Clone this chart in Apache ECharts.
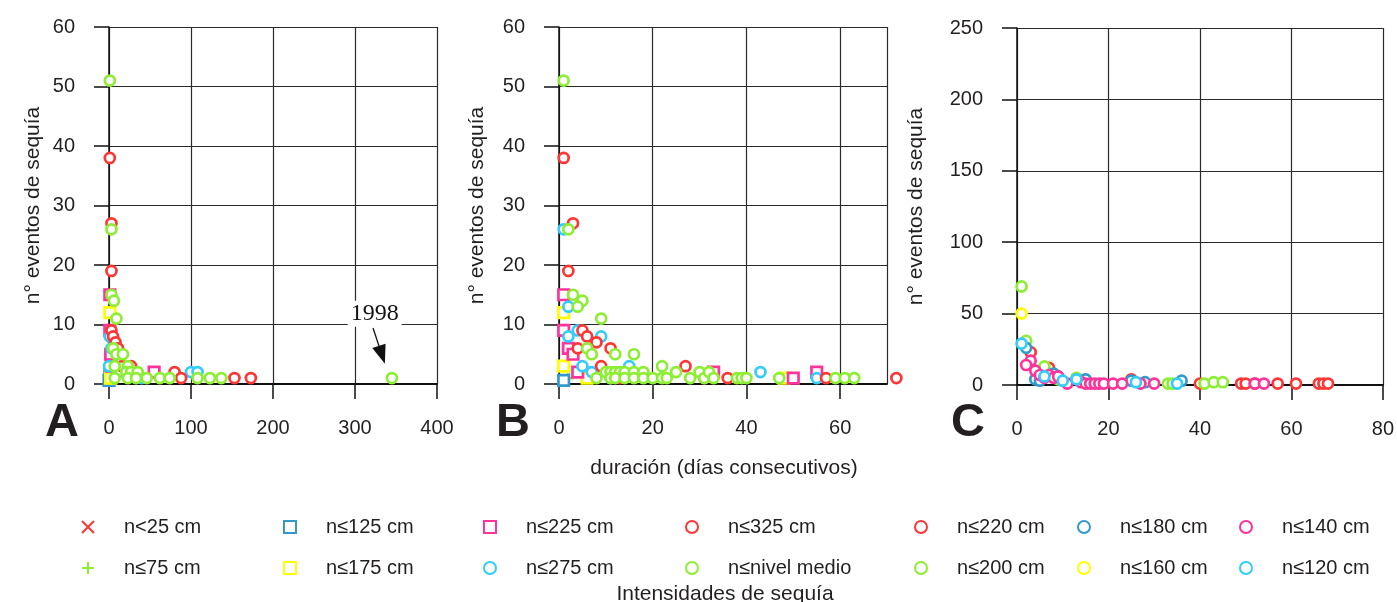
<!DOCTYPE html>
<html><head><meta charset="utf-8">
<script src="https://cdn.jsdelivr.net/npm/echarts@6/dist/echarts.min.js"></script>
<style>html,body{margin:0;padding:0;background:#fff}#c{width:1397px;height:602px}</style>
</head><body><div id="c"></div>
<script>
// ---------- categories ----------
const categoryNames = ['n<25 cm','n≤75 cm','n≤125 cm','n≤175 cm','n≤225 cm','n≤275 cm','n≤325 cm','n≤nivel medio',
                       'n≤220 cm','n≤200 cm','n≤180 cm','n≤160 cm','n≤140 cm','n≤120 cm'];
const categoryColors = ['#FF3636','#8DEE33','#3399CC','#FFFF00','#FF3399','#33CCFF','#FF3636','#8DEE33',
                        '#FF3636','#8DEE33','#3399CC','#FFFF00','#FF3399','#33CCFF'];
const categoryShapes = ['cross','plus','square','square','square','circle','circle','circle',
                        'circle','circle','circle','circle','circle','circle'];

// ---------- axis ticks ----------
const xTicksA = [0, 100, 200, 300, 400];
const xTicksB = [0, 20, 40, 60];
const xMaxB = 70;
const xTicksC = [0, 20, 40, 60, 80];
const yTicksAB = [0, 10, 20, 30, 40, 50, 60];
const yTicksC = [0, 50, 100, 150, 200, 250];

// ---------- panel A: [duración, nº eventos] ----------
const A_lt25 = [[1,3]];
const A_le75 = [[2,2]];
const A_le125 = [[0,0.6],[1,2]];
const A_le175 = [[1,12],[2,1]];
const A_le225 = [[1,15],[1,9],[2,5],[3,3],[55,2]];
const A_le275 = [[1,8],[3,6],[0,3],[12,2],[100,2],[108,2],[40,1]];
const A_le325 = [[1,38],[3,27],[3,19],[3,9],[5,8],[8,7],[11,6],[16,3],[27,3],[80,2],[88,1],[153,1],[173,1]];
const A_nivel = [[1,51],[3,26],[3,15],[6,14],[9,11],[5,6],[9,5],[17,5],[7,3],[23,3],[21,2],[27,2],[35,2],
                 [7,1],[23,1],[33,1],[46,1],[62,1],[74,1],[108,1],[123,1],[137,1],[345,1]];

// ---------- panel B ----------
const B_lt25 = [[1,3]];
const B_le75 = [[2,1]];
const B_le125 = [[1,0.6]];
const B_le175 = [[1,12],[1,3],[6,1],[48,1]];
const B_le225 = [[1,15],[1,9],[2,6],[3,5],[4,2],[33,2],[50,1],[55,2]];
const B_le275 = [[1,26],[2,13],[2,8],[4,9],[9,8],[5,3],[7,2],[11,1],[15,3],[43,2],[55,1]];
const B_le325 = [[1,38],[3,27],[2,19],[5,9],[6,8],[8,7],[11,6],[4,6],[9,3],[13,1],[27,3],[31,1],[36,1],[57,1],[72,1]];
const B_nivel = [[1,51],[2,26],[3,15],[5,14],[4,13],[9,11],[6,6],[7,5],[12,5],[16,5],
                 [10,2],[11,2],[12,2],[13,2],[14,2],[16,2],[18,2],
                 [8,1],[11,1],[12,1],[14,1],[16,1],[18,1],[20,1],[22,1],[23,1],[22,3],[25,2],[28,1],
                 [30,2],[31,1],[32,2],[33,1],[38,1],[39,1],[40,1],[47,1],[59,1],[61,1],[63,1]];

// ---------- panel C ----------
const C_le220 = [[3,23],[7,12],[25,4],[40,1],[49,1],[50,1],[52,1],[57,1],[61,1],[66,1],[67,1],[68,1]];
const C_le200 = [[1,69],[2,31],[6,13],[13,5],[9,4],[33,1],[34,1],[35,1],[41,1],[43,2],[45,2]];
const C_le180 = [[2,26],[4,4],[5,3],[8,8],[9,6],[15,4],[25,3],[28,2],[36,3]];
const C_le160 = [[1,50]];
const C_le140 = [[3,17],[2,14],[4,10],[5,7],[7,7],[6,5],[8,5],[9,6],[11,1],[14,2],[15,1],[16,1],[17,1],
                 [18,1],[19,1],[21,1],[23,1],[27,1],[30,1],[52,1],[54,1]];
const C_le120 = [[1,29],[6,6],[10,3],[13,4],[26,2],[35,1]];

// annotation (data coordinates of panel A)
const annoYear = '1998';
const annoTextAt = [324, 11.8];
const annoArrowFrom = [322, 9.4];
const annoArrowTo = [332.8, 4.9];

const panelA = [A_lt25, A_le75, A_le125, A_le175, A_le225, A_le275, A_le325, A_nivel];
const panelB = [B_lt25, B_le75, B_le125, B_le175, B_le225, B_le275, B_le325, B_nivel];
const panelC = [C_le220, C_le200, C_le180, C_le160, C_le140, C_le120];

// ---------- styling ----------
const FONT = '"Liberation Sans", Arial, sans-serif';
const TXT = '#231f20';
const shapeSymbol = {
  circle: 'circle',
  square: 'rect',
  cross: 'path://M0,0L10,10M10,0L0,10',
  plus: 'path://M5,0L5,10M0,5L10,5'
};
const shapeSize = {circle: 10, square: 10.5, cross: 9.5, plus: 10.5};

function makeSeries(catIdx, data, axisIdx) {
  const shape = categoryShapes[catIdx];
  return {
    type: 'scatter',
    name: categoryNames[catIdx],
    xAxisIndex: axisIdx, yAxisIndex: axisIdx,
    data: data,
    symbol: shapeSymbol[shape],
    symbolSize: shapeSize[shape],
    clip: false,
    itemStyle: {color: '#ffffff', borderColor: categoryColors[catIdx], borderWidth: 2.7, opacity: 1},
    emphasis: {disabled: true},
    animation: false
  };
}

const series = [];
panelA.forEach((d, i) => series.push(makeSeries(i, d, 0)));
panelB.forEach((d, i) => series.push(makeSeries(i, d, 1)));
panelC.forEach((d, i) => series.push(makeSeries(8 + i, d, 2)));

// annotation on panel A green series
const annoSeries = series[7];
annoSeries.markLine = {
  silent: true, animation: false,
  symbol: ['none', 'triangle'], symbolSize: [14, 19],
  lineStyle: {color: '#111', width: 1.3, type: 'solid'},
  label: {show: false},
  data: [[{coord: annoArrowFrom}, {coord: annoArrowTo}]]
};
annoSeries.markPoint = {
  silent: true, animation: false,
  symbol: 'rect', symbolSize: 0,
  label: {show: true, position: 'inside', formatter: annoYear, fontFamily: '"Liberation Serif", "Times New Roman", serif',
          fontSize: 24, color: '#111', backgroundColor: '#fff', padding: [1, 3]},
  data: [{coord: annoTextAt}]
};

function xAxisCfg(gridIndex, ticks, max, hideMax) {
  return {
    type: 'value', gridIndex, min: 0, max: max, interval: ticks[1] - ticks[0],
    axisLine: {show: true, onZero: false, lineStyle: {color: '#111', width: 2}},
    axisTick: {show: true, length: 15, lineStyle: {color: '#111', width: 1.5}},
    splitLine: {show: true, lineStyle: {color: '#2a2a2a', width: 1.2}},
    axisLabel: {fontSize: 20, color: TXT, fontFamily: FONT, margin: 34, showMaxLabel: !hideMax}
  };
}
function yAxisCfg(gridIndex, ticks, nameGap) {
  return {
    type: 'value', gridIndex, min: ticks[0], max: ticks[ticks.length - 1], interval: ticks[1] - ticks[0],
    name: 'n° eventos de sequía', nameLocation: 'middle', nameGap: nameGap,
    nameTextStyle: {fontSize: 21, color: TXT, fontFamily: FONT},
    axisLine: {show: true, onZero: false, lineStyle: {color: '#111', width: 1.5}},
    axisTick: {show: true, length: 15, lineStyle: {color: '#111', width: 1.5}},
    splitLine: {show: true, lineStyle: {color: '#2a2a2a', width: 1.2}},
    axisLabel: {fontSize: 20, color: TXT, fontFamily: FONT, margin: 34}
  };
}

// legends: one per category, 7 columns x 2 rows
const legendColX = [87, 289, 489, 691, 920, 1083, 1245];
const legendRowY = [527, 568];
const legends = categoryNames.map((nm, i) => ({
  data: [nm],
  left: legendColX[Math.floor(i / 2)] - 6,
  top: legendRowY[i % 2] - 10,
  padding: 0,
  itemWidth: 12, itemHeight: 12,
  selectedMode: false,
  textStyle: {fontSize: 20, color: TXT, fontFamily: FONT, lineHeight: 20, padding: [0, 0, 0, 25]}
}));

const option = {
  backgroundColor: '#ffffff',
  animation: false,
  textStyle: {fontFamily: FONT},
  grid: [
    {left: 109, top: 27, width: 328, height: 357},
    {left: 559, top: 27, width: 328, height: 357},
    {left: 1017, top: 28, width: 366, height: 357}
  ],
  xAxis: [
    xAxisCfg(0, xTicksA, xTicksA[xTicksA.length - 1], false),
    xAxisCfg(1, xTicksB, xMaxB, true),
    xAxisCfg(2, xTicksC, xTicksC[xTicksC.length - 1], false)
  ],
  yAxis: [
    yAxisCfg(0, yTicksAB, 65),
    yAxisCfg(1, yTicksAB, 71),
    yAxisCfg(2, yTicksC, 90)
  ],
  legend: legends,
  series: series,
  graphic: [
    {type: 'text', x: 62, y: 423, style: {text: 'A', font: 'bold 47px "Liberation Sans", Arial, sans-serif', fill: TXT, align: 'center', verticalAlign: 'middle'}},
    {type: 'text', x: 513, y: 423, style: {text: 'B', font: 'bold 47px "Liberation Sans", Arial, sans-serif', fill: TXT, align: 'center', verticalAlign: 'middle'}},
    {type: 'text', x: 968, y: 423, style: {text: 'C', font: 'bold 47px "Liberation Sans", Arial, sans-serif', fill: TXT, align: 'center', verticalAlign: 'middle'}},
    {type: 'text', x: 724, y: 468, style: {text: 'duración (días consecutivos)', font: '21px "Liberation Sans", Arial, sans-serif', fill: TXT, align: 'center', verticalAlign: 'middle'}},
    {type: 'text', x: 725, y: 594, style: {text: 'Intensidades de sequía', font: '21px "Liberation Sans", Arial, sans-serif', fill: TXT, align: 'center', verticalAlign: 'middle'}}
  ]
};

const chart = echarts.init(document.getElementById('c'), null, {renderer: 'canvas'});
chart.setOption(option);
</script>
</body></html>
